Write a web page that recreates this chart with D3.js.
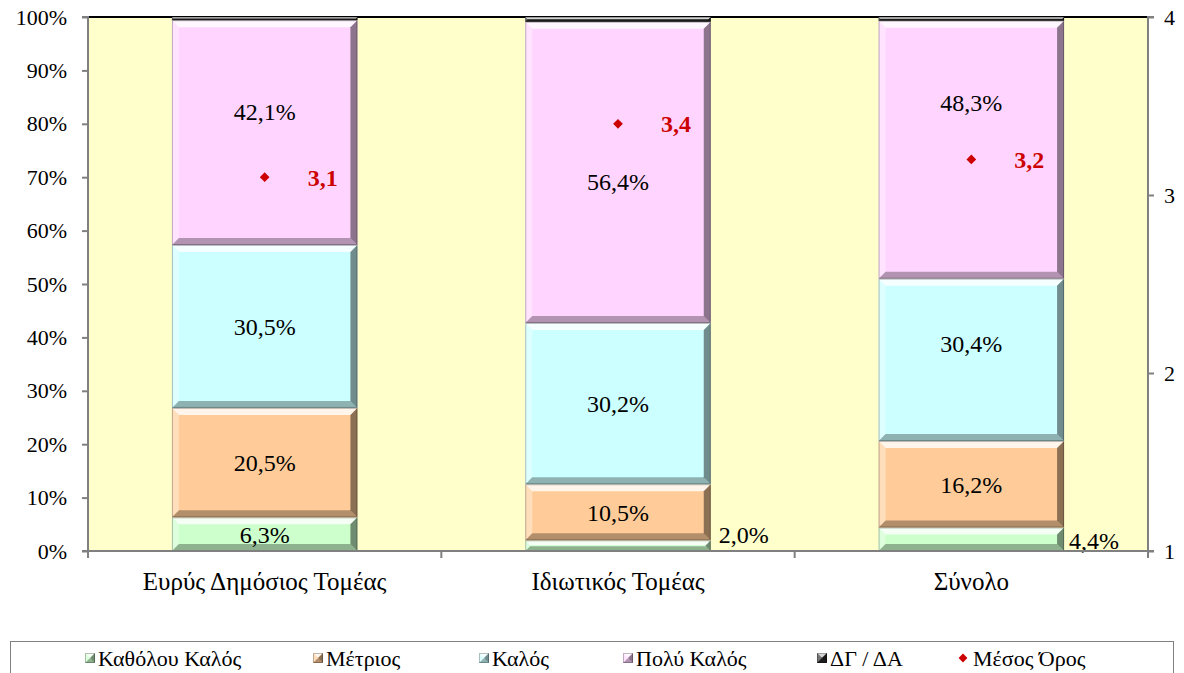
<!DOCTYPE html>
<html>
<head>
<meta charset="utf-8">
<script src="https://cdn.jsdelivr.net/npm/d3@7"></script>
<style>
  body { margin: 0; background: #fff; }
  text { font-family: "Liberation Serif", "Times New Roman", serif; }
</style>
</head>
<body>
<div id="chart"></div>
<script>
// data
const categories = ["Ευρύς Δημόσιος Τομέας", "Ιδιωτικός Τομέας", "Σύνολο"];
const seriesNames = ["Καθόλου Καλός", "Μέτριος", "Καλός", "Πολύ Καλός", "ΔΓ / ΔΑ"];
const katholou = [6.3, 2.0, 4.4];
const metrios = [20.5, 10.5, 16.2];
const kalos = [30.5, 30.2, 30.4];
const polyKalos = [42.1, 56.4, 48.3];
const dgda = [0.6, 0.9, 0.7];
const mesosOros = [3.1, 3.4, 3.2];
const leftTicks = [0, 10, 20, 30, 40, 50, 60, 70, 80, 90, 100];
const rightTicks = [1, 2, 3, 4];
// labels that were moved by hand in the original (value units, %)
const labelAt = [
  [null, null, null, 82.2, null],
  [null, null, null, 69.1, null],
  [null, null, 38.8, 83.9, null]
];

const colors = ["#CCFFCC", "#FFCC99", "#CCFFFF", "#FFD5FF", "#2a2a2a"];

const W = 1184, H = 673;
const plot = { left: 88, right: 1148, top: 17, bottom: 551 };

const svg = d3.select("#chart").append("svg")
  .attr("width", W).attr("height", H);

const x = d3.scaleBand()
  .domain(categories)
  .range([plot.left, plot.right])
  .paddingInner(0.475)
  .paddingOuter(0.2375);

const xCat = d3.scaleBand().domain(categories).range([plot.left, plot.right]);

const y = d3.scaleLinear().domain([0, 100]).range([plot.bottom, plot.top]);
const y2 = d3.scaleLinear().domain([1, 4]).range([plot.bottom, plot.top]);

// plot area
svg.append("rect")
  .attr("x", plot.left).attr("y", plot.top)
  .attr("width", plot.right - plot.left).attr("height", plot.bottom - plot.top)
  .attr("fill", "#FFFFCC");
svg.append("line")
  .attr("x1", plot.left).attr("x2", plot.right)
  .attr("y1", plot.top).attr("y2", plot.top)
  .attr("stroke", "#000").attr("stroke-width", 2);

const seriesValues = [katholou, metrios, kalos, polyKalos, dgda];
const stackData = categories.map((c, i) => {
  const row = { cat: c };
  seriesNames.forEach((s, j) => row[s] = seriesValues[j][i]);
  return row;
});
const stack = d3.stack().keys(seriesNames)(stackData);

// bevelled segment drawing
function bevel(g, x0, y0, w, h, color) {
  const b = Math.min(7, h / 2.2, w / 2.2);
  g.append("rect").attr("x", x0).attr("y", y0).attr("width", w).attr("height", h)
    .attr("fill", color);
  const x1 = x0 + w, y1 = y0 + h;
  const faces = [
    { pts: [[x0, y0], [x1, y0], [x1 - b, y0 + b], [x0 + b, y0 + b]], fill: "#fff", op: 0.8 },
    { pts: [[x0, y0], [x0 + b, y0 + b], [x0 + b, y1 - b], [x0, y1]], fill: "#fff", op: 0.35 },
    { pts: [[x1, y0], [x1, y1], [x1 - b, y1 - b], [x1 - b, y0 + b]], fill: "#000", op: 0.45 },
    { pts: [[x0, y1], [x0 + b, y1 - b], [x1 - b, y1 - b], [x1, y1]], fill: "#000", op: 0.3 }
  ];
  faces.forEach(f => g.append("polygon")
    .attr("points", f.pts.map(p => p.join(",")).join(" "))
    .attr("fill", f.fill).attr("opacity", f.op));
  g.append("rect").attr("x", x0 + 0.5).attr("y", y0 + 0.5).attr("width", w - 1).attr("height", Math.max(0, h - 1))
    .attr("fill", "none").attr("stroke", "#000").attr("stroke-opacity", 0.25);
}

const bars = svg.append("g");
stack.forEach((layer, j) => {
  layer.forEach((d, i) => {
    const x0 = x(categories[i]);
    const yTop = y(d[1]), yBot = y(d[0]);
    bevel(bars, x0, yTop, x.bandwidth(), yBot - yTop, colors[j]);
  });
});

// data labels
const labels = svg.append("g").attr("font-size", 24).attr("fill", "#000");
stack.forEach((layer, j) => {
  if (j === 4) return;
  layer.forEach((d, i) => {
    const v = seriesValues[j][i];
    const txt = d3.format(".1f")(v).replace(".", ",") + "%";
    if (v < 5) {
      labels.append("text")
        .attr("x", x(categories[i]) + x.bandwidth() + (i === 2 ? 5 : 8))
        .attr("y", y(d[0]) - 16 + (i === 2 ? 6 : 0))
        .attr("dy", "0.35em")
        .text(txt);
    } else {
      const pos = labelAt[i][j] != null ? labelAt[i][j] : (d[0] + d[1]) / 2;
      labels.append("text")
        .attr("x", x(categories[i]) + x.bandwidth() / 2)
        .attr("y", y(pos))
        .attr("dy", "0.35em")
        .attr("text-anchor", "middle")
        .text(txt);
    }
  });
});

// mean markers
const diamond = d3.symbol().type(d3.symbolDiamond2).size(60);
mesosOros.forEach((m, i) => {
  const cx = x(categories[i]) + x.bandwidth() / 2;
  svg.append("path").attr("d", diamond)
    .attr("transform", `translate(${cx},${y2(m)})`)
    .attr("fill", "#CC0000");
  svg.append("text")
    .attr("x", cx + 58).attr("y", y2(m)).attr("dy", "0.35em")
    .attr("text-anchor", "middle")
    .attr("font-size", 24).attr("font-weight", "bold").attr("fill", "#CC0000")
    .text(d3.format(".1f")(m).replace(".", ","));
});

// axes
const axisColor = "#808080";
const leftAxis = svg.append("g").attr("transform", `translate(${plot.left},0)`)
  .call(d3.axisLeft(y).tickValues(leftTicks).tickSize(6).tickPadding(15).tickFormat(d => d + "%"));
const rightAxis = svg.append("g").attr("transform", `translate(${plot.right},0)`)
  .call(d3.axisRight(y2).tickValues(rightTicks).tickSize(6).tickPadding(10).tickFormat(d3.format("d")));
const bottomAxis = svg.append("g").attr("transform", `translate(0,${plot.bottom})`)
  .call(d3.axisBottom(xCat).tickSize(0).tickPadding(21));

[leftAxis, rightAxis, bottomAxis].forEach(a => {
  a.select(".domain").attr("stroke", axisColor).attr("stroke-width", 2);
  a.selectAll(".tick line").attr("stroke", axisColor).attr("stroke-width", 2);
  a.selectAll("text").attr("font-size", 22).attr("fill", "#000")
    .attr("font-family", "'Liberation Serif', 'Times New Roman', serif");
});
bottomAxis.selectAll("text").attr("font-size", 25);
leftAxis.select(".domain").attr("d", `M-6,${plot.top}H0V${plot.bottom}H-6`);
rightAxis.select(".domain").attr("d", `M6,${plot.top}H0V${plot.bottom}H6`);
bottomAxis.select(".domain").attr("d", `M${plot.left},0H${plot.right}`);

// category boundary ticks
const bounds = categories.map(c => xCat(c)).concat([plot.right]);
svg.append("g").selectAll("line").data(bounds).join("line")
  .attr("x1", d => d).attr("x2", d => d)
  .attr("y1", plot.bottom).attr("y2", plot.bottom + 7)
  .attr("stroke", axisColor).attr("stroke-width", 2);

// legend
const legendItems = seriesNames.concat(["Μέσος Όρος"]);
const legendX = [90, 318, 484, 628, 822, 960];
const legend = svg.append("g");
legend.append("rect")
  .attr("x", 10.5).attr("y", 641.5).attr("width", 1163).attr("height", 45)
  .attr("fill", "#fff").attr("stroke", "#808080");
legendItems.forEach((name, k) => {
  const lx = legendX[k], ly = 658;
  if (k < 5) {
    bevel(legend, lx - 5, ly - 5, 10, 10, colors[k]);
  } else {
    legend.append("path").attr("d", d3.symbol().type(d3.symbolDiamond2).size(50))
      .attr("transform", `translate(${lx + 3},${ly})`).attr("fill", "#CC0000");
  }
  legend.append("text").attr("x", lx + (k < 5 ? 8 : 13)).attr("y", ly).attr("dy", "0.35em")
    .attr("font-size", 22).text(name);
});
</script>
</body>
</html>
